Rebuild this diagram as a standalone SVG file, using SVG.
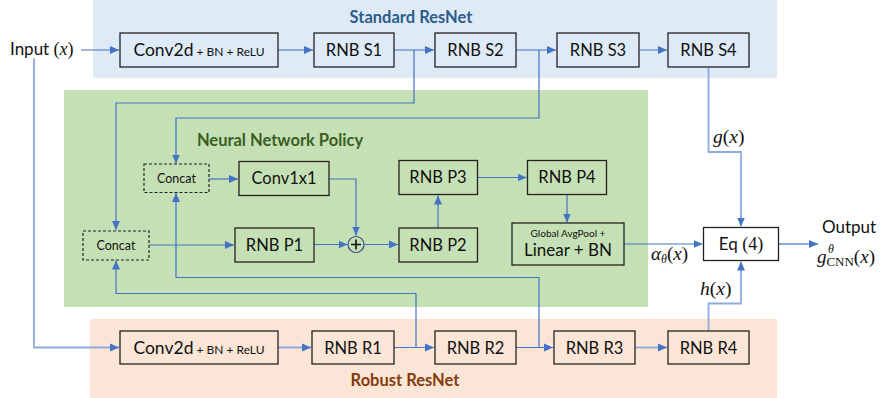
<svg xmlns="http://www.w3.org/2000/svg" width="888" height="398" viewBox="0 0 888 398">
<defs>
<marker id="ah" markerUnits="userSpaceOnUse" markerWidth="10" markerHeight="10" viewBox="0 0 10 10" refX="9" refY="5" orient="auto">
<path d="M0,1 L9,5 L0,9 Z" fill="#4472C4"/>
</marker>
</defs>
<style>
text{font-family:Lato,"Open Sans","Liberation Sans",sans-serif;fill:#111}
.m{font-family:"Liberation Serif","DejaVu Serif",serif}
.i{font-style:italic}
.b{stroke:#222;stroke-width:1.3}
.sb{fill:#DEEBF7}
.gb{fill:#C5E0B4}
.ob{fill:#FBE5D6}
.wb{fill:#FFFFFF}
.d{stroke:#222;stroke-width:1.2;stroke-dasharray:3,2}
.lab{font-size:16.5px;text-anchor:middle}
.c{fill:none;stroke:#4472C4;stroke-width:1.2}
.cl{fill:none;stroke:#8FAADC;stroke-width:1.8}
.ti{font-weight:bold;font-size:16.5px;text-anchor:middle}
</style>
<!-- backgrounds -->
<rect x="93" y="0" width="684" height="78" fill="#DEEBF7"/>
<rect x="64" y="90" width="584" height="217" fill="#C5E0B4"/>
<rect x="90" y="319" width="687" height="79" fill="#FBE5D6"/>
<text class="ti" x="411" y="23" style="fill:#2E5C8A">Standard ResNet</text>
<text class="ti" x="280" y="146" style="fill:#3A5F22">Neural Network Policy</text>
<text class="ti" x="405" y="386" style="fill:#843C0C">Robust ResNet</text>

<g id="connectors">
<path class="c" d="M81,50 H119" marker-end="url(#ah)"/>
<path class="cl" d="M34,58 V347.5 H119" marker-end="url(#ah)"/>
<path class="cl" d="M278,50 H313" marker-end="url(#ah)"/>
<path class="c" d="M394,50 H434" marker-end="url(#ah)"/>
<path class="c" d="M414,50 V103 H116 V230" marker-end="url(#ah)"/>
<path class="c" d="M516,50 H556" marker-end="url(#ah)"/>
<path class="c" d="M539,50 V118 H176 V163.5" marker-end="url(#ah)"/>
<path class="cl" d="M639,50 H667" marker-end="url(#ah)"/>
<path class="cl" d="M708.5,67 V152 H741 V226.5" marker-end="url(#ah)"/>
<path class="c" d="M209,179 H238" marker-end="url(#ah)"/>
<path class="c" d="M329,179 H356 V235.5" marker-end="url(#ah)"/>
<path class="c" d="M149,245 H234" marker-end="url(#ah)"/>
<path class="c" d="M314,244.5 H347.5" marker-end="url(#ah)"/>
<path class="c" d="M364.5,244.5 H398" marker-end="url(#ah)"/>
<path class="c" d="M438,227.5 V195.5" marker-end="url(#ah)"/>
<path class="c" d="M477.5,177.5 H526.5" marker-end="url(#ah)"/>
<path class="c" d="M567,194.5 V222.5" marker-end="url(#ah)"/>
<path class="c" d="M624,244 H702.5" marker-end="url(#ah)"/>
<path class="cl" d="M708.5,331 V303.5 H741 V261.5" marker-end="url(#ah)"/>
<path class="cl" d="M779,244 H818" marker-end="url(#ah)"/>
<path class="cl" d="M278,347.5 H311" marker-end="url(#ah)"/>
<path class="c" d="M394,347.5 H434" marker-end="url(#ah)"/>
<path class="c" d="M416,347.5 V293.5 H116 V260.5" marker-end="url(#ah)"/>
<path class="c" d="M516,347.5 H553" marker-end="url(#ah)"/>
<path class="c" d="M539,347.5 V277.5 H176 V193" marker-end="url(#ah)"/>
<path class="cl" d="M635,347.5 H667" marker-end="url(#ah)"/>
</g>

<g id="conv-s">
<rect class="b sb" x="120" y="33" width="158" height="34"/>
<text x="199" y="56" text-anchor="middle"><tspan font-size="17.5">Conv2d</tspan><tspan font-size="12"> + BN + ReLU</tspan></text>
</g>
<g id="rnb-s1"><rect class="b sb" x="314" y="33" width="80" height="34"/><text class="lab" x="354" y="56">RNB S1</text></g>
<g id="rnb-s2"><rect class="b sb" x="435" y="33" width="81" height="34"/><text class="lab" x="475.5" y="56">RNB S2</text></g>
<g id="rnb-s3"><rect class="b sb" x="557" y="33" width="82" height="34"/><text class="lab" x="598" y="56">RNB S3</text></g>
<g id="rnb-s4"><rect class="b sb" x="668" y="33" width="81" height="34"/><text class="lab" x="708.5" y="56">RNB S4</text></g>

<g id="concat1"><rect class="d gb" x="144" y="164" width="65" height="28.5"/><text x="176.5" y="183" font-size="12.5" text-anchor="middle">Concat</text></g>
<g id="conv1x1"><rect class="b gb" x="239" y="161.5" width="90" height="34"/><text class="lab" x="284" y="184">Conv1x1</text></g>
<g id="rnb-p3"><rect class="b gb" x="399" y="160.5" width="78.5" height="34"/><text class="lab" x="438" y="183">RNB P3</text></g>
<g id="rnb-p4"><rect class="b gb" x="527.5" y="160.5" width="79" height="34"/><text class="lab" x="567" y="183">RNB P4</text></g>
<g id="concat2"><rect class="d gb" x="83" y="231" width="66" height="29"/><text x="116" y="250" font-size="12.5" text-anchor="middle">Concat</text></g>
<g id="rnb-p1"><rect class="b gb" x="235" y="228" width="79" height="34"/><text class="lab" x="274.5" y="250.5">RNB P1</text></g>
<g id="plus"><circle cx="356" cy="244.5" r="8" fill="#C5E0B4" stroke="#2F4F8F" stroke-width="1.2"/><path d="M351,244.5 H361 M356,239.5 V249.5" stroke="#111" stroke-width="1.6"/></g>
<g id="rnb-p2"><rect class="b gb" x="399" y="228" width="78.5" height="34"/><text class="lab" x="438" y="250.5">RNB P2</text></g>
<g id="pool"><rect class="b gb" x="512" y="223" width="112" height="42"/><text x="568" y="237" font-size="10" text-anchor="middle">Global AvgPool +</text><text x="568" y="256" font-size="17" text-anchor="middle">Linear + BN</text></g>
<g id="eq"><rect class="b wb" x="703.5" y="227.5" width="75" height="33"/><text x="741" y="250" text-anchor="middle" font-size="17">Eq <tspan class="m" font-size="18">(4)</tspan></text></g>

<g id="conv-r">
<rect class="b ob" x="120" y="331" width="158" height="33"/>
<text x="199" y="354" text-anchor="middle"><tspan font-size="17.5">Conv2d</tspan><tspan font-size="12"> + BN + ReLU</tspan></text>
</g>
<g id="rnb-r1"><rect class="b ob" x="312" y="331" width="82" height="33"/><text class="lab" x="353" y="354">RNB R1</text></g>
<g id="rnb-r2"><rect class="b ob" x="435" y="331" width="81" height="33"/><text class="lab" x="475.5" y="354">RNB R2</text></g>
<g id="rnb-r3"><rect class="b ob" x="554" y="331" width="81" height="33"/><text class="lab" x="594.5" y="354">RNB R3</text></g>
<g id="rnb-r4"><rect class="b ob" x="668" y="331" width="81" height="33"/><text class="lab" x="708.5" y="354">RNB R4</text></g>

<g id="labels">
<text x="10" y="55" font-size="17">Input <tspan class="m" font-size="18">(</tspan><tspan class="m i" font-size="18">x</tspan><tspan class="m" font-size="18">)</tspan></text>
<text class="m" x="713" y="143" font-size="19.5"><tspan class="i">g</tspan>(<tspan class="i">x</tspan>)</text>
<text class="m" x="700" y="295" font-size="19.5"><tspan class="i">h</tspan>(<tspan class="i">x</tspan>)</text>
<text class="m" x="651" y="260" font-size="19"><tspan class="i">α</tspan><tspan class="i" font-size="12" dy="3">θ</tspan><tspan dy="-3">(</tspan><tspan class="i">x</tspan>)</text>
<text x="822" y="233" font-size="17">Output</text>
<text class="m" x="817" y="263" font-size="19"><tspan class="i">g</tspan><tspan class="i" font-size="12" dx="1.5" dy="-10">θ</tspan><tspan font-size="13" dx="-7.5" dy="13">CNN</tspan><tspan dy="-3">(</tspan><tspan class="i">x</tspan>)</text>
</g>
</svg>
